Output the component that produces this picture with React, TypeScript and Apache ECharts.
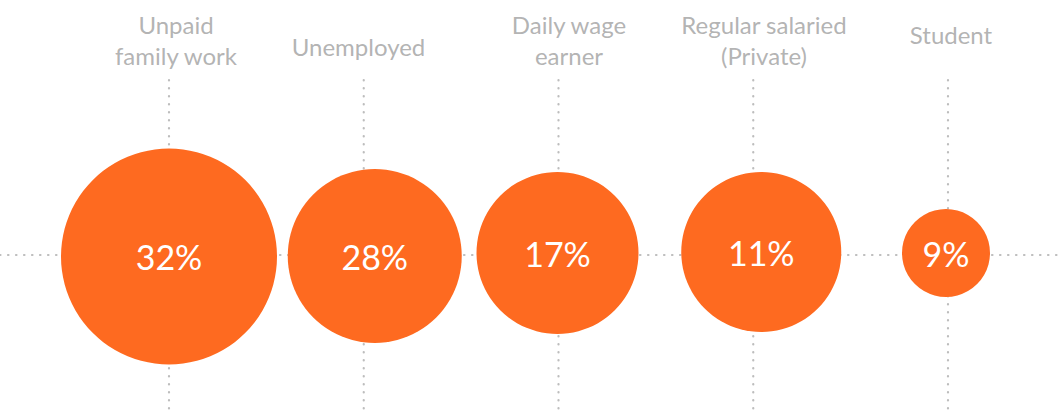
import React, { useEffect, useRef } from "react";
import * as echarts from "echarts";

// ---- data ----
const categories = [
  "Unpaid\nfamily work",
  "Unemployed",
  "Daily wage\nearner",
  "Regular salaried\n(Private)",
  "Student",
];
const shares = [32, 28, 17, 11, 9];

// ---- layout (pixels) ----
const W = 1058;
const H = 412;
const firstLinePx = 169;
const lineStepPx = 194.75;
const baselinePx = 255;
const bubbleDiameterPx = [216, 174, 162, 160, 88];
const bubbleDxPx = [0, 11, -1, 8, -2];
const bubbleYPx = [256.5, 256, 253, 252, 253];
const labelXPx = [176, 358.5, 569, 764, 951];
const labelYPx = [40, 46.5, 39.5, 40, 34.5];
const lineTopPx = 80;

const ORANGE = "#FE6A20";
const GREY_TEXT = "#A0A0A0";
const GREY_DOT = "#BDBDBD";

const xMin = 1 - firstLinePx / lineStepPx;
const xMax = 1 + (W - firstLinePx) / lineStepPx;
const yMax = baselinePx;
const yMin = baselinePx - H;
const pxToX = (px: number) => 1 + (px - firstLinePx) / lineStepPx;
const pxToY = (py: number) => baselinePx - py;

export default function App() {
  const ref = useRef<HTMLDivElement>(null);
  useEffect(() => {
    if (!ref.current) return;
    const chart = echarts.init(ref.current, undefined, { renderer: "svg" });
    const dotted = {
      color: GREY_DOT,
      width: 2.2,
      type: [0.5, 7.5] as number[],
      cap: "round" as const,
    };
    const guide = (data: number[][]) => ({
      type: "line",
      z: 1,
      silent: true,
      symbol: "none",
      data,
      lineStyle: dotted,
    });
    chart.setOption({
      animation: false,
      grid: { left: 0, right: 0, top: 0, bottom: 0 },
      xAxis: { type: "value", min: xMin, max: xMax, show: false },
      yAxis: { type: "value", min: yMin, max: yMax, show: false },
      series: [
        guide([
          [xMin, 0],
          [xMax, 0],
        ]),
        ...categories.map((_, i) =>
          guide([
            [i + 1, pxToY(lineTopPx)],
            [i + 1, yMin],
          ])
        ),
        {
          type: "scatter",
          z: 3,
          silent: true,
          data: shares.map((v, i) => [
            i + 1 + bubbleDxPx[i] / lineStepPx,
            pxToY(bubbleYPx[i]),
            v,
          ]),
          symbol: "circle",
          symbolSize: (_v: any, p: any) => bubbleDiameterPx[p.dataIndex],
          itemStyle: { color: ORANGE, opacity: 1 },
          label: {
            show: true,
            position: "inside",
            formatter: (p: any) => `${p.value[2]}%`,
            color: "#ffffff",
            fontFamily: "Lato",
            fontSize: 34,
          },
        },
        {
          type: "scatter",
          z: 4,
          silent: true,
          symbolSize: 0,
          data: categories.map((c, i) => ({
            value: [pxToX(labelXPx[i]), pxToY(labelYPx[i])],
            name: c,
          })),
          label: {
            show: true,
            position: "inside",
            formatter: (p: any) => p.name,
            color: GREY_TEXT,
            fontFamily: "Lato",
            fontSize: 24,
            lineHeight: 31,
            align: "center",
          },
        },
      ],
    });
    return () => chart.dispose();
  }, []);
  return (
    <div
      ref={ref}
      style={{ position: "fixed", left: 0, top: 0, width: W, height: H, background: "#fff" }}
    />
  );
}
